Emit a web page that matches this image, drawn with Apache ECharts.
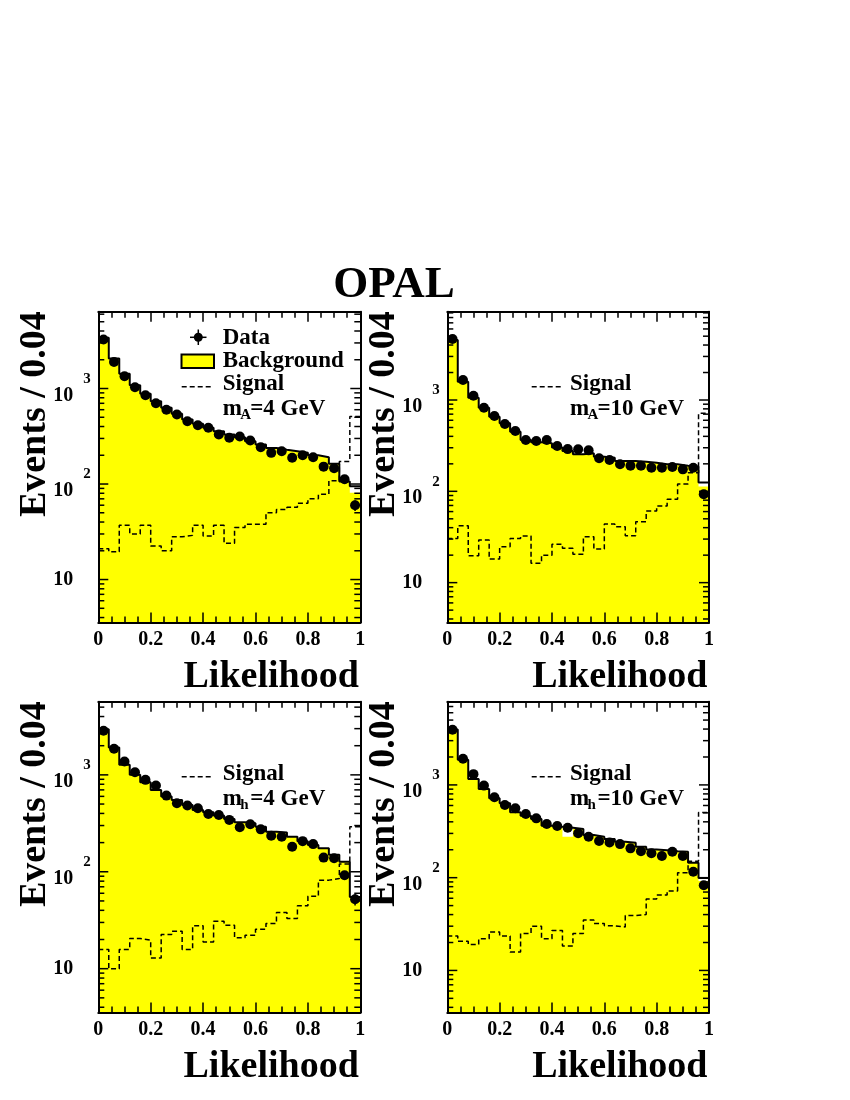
<!DOCTYPE html>
<html>
<head>
<meta charset="utf-8">
<script src="https://cdn.jsdelivr.net/npm/echarts@6/dist/echarts.min.js"></script>
<style>
html,body{margin:0;padding:0;background:#fff;}
#chart{width:850px;height:1100px;}
</style>
</head>
<body>
<div id="chart"></div>
<script>
// ---------------- data (25 bins of width 0.04 on Likelihood 0..1) ----------------
const BIN_WIDTH = 0.04;
const N_BINS = 25;
const xTickLabels = ['0', '0.2', '0.4', '0.6', '0.8', '1'];

// Panel 1 : m_A = 4 GeV
const data_mA4 = [3260, 1900, 1345, 1030, 850, 702, 598, 534, 455, 413, 388, 330, 305, 314, 285, 243, 212, 220, 188, 200, 191, 152, 146, 112, 60];
const bkgLine_mA4 = [3400, 2060, 1425, 1083, 880, 736, 628, 543, 473, 427, 388, 357, 330, 309, 281, 259, 239, 228, 220, 212, 200, 191, 163, 106, 95];
const bkgFill_mA4 = [3400, 2060, 1425, 1083, 880, 736, 628, 543, 473, 427, 388, 357, 330, 309, 281, 259, 239, 228, 220, 212, 200, 191, 163, 106, 81];
const sig_mA4 = [21, 19.5, 37, 30, 37, 22.5, 20, 28, 29, 37, 28.5, 37, 24, 35, 38, 38, 50, 54, 57, 63, 70, 78, 108, 172, 510];

// Panel 2 : m_A = 10 GeV
const data_mA10 = [4650, 1656, 1114, 823, 668, 546, 457, 365, 356, 365, 313, 290, 288, 281, 230, 220, 198, 191, 191, 181, 181, 185, 174, 181, 93];
const bkgLine_mA10 = [4550, 1586, 1060, 823, 656, 556, 450, 365, 344, 336, 301, 276, 254, 261, 239, 233, 215, 215, 211, 206, 198, 198, 191, 186, 125];
const bkgFill_mA10 = [4550, 1586, 1060, 823, 656, 556, 450, 365, 344, 336, 301, 276, 254, 261, 239, 233, 215, 215, 211, 206, 198, 198, 191, 186, 113];
const sig_mA10 = [30.5, 42, 19.7, 29.3, 18.1, 24.7, 30.5, 32.4, 16.3, 20, 26.3, 23.8, 20.4, 31.9, 23.3, 44, 41, 32.6, 46.5, 61, 69, 82, 120, 160, 714];

// Panel 3 : m_h = 4 GeV
const data_mh4 = [2850, 1857, 1373, 1066, 888, 777, 611, 510, 482, 452, 395, 386, 343, 288, 309, 274, 235, 230, 181, 207, 193, 140, 138, 92, 52];
const bkgLine_mh4 = [2950, 1914, 1269, 1000, 840, 700, 597, 551, 490, 435, 411, 380, 351, 324, 316, 292, 259, 255, 230, 207, 189, 175, 150, 127, 55];
const bkgFill_mh4 = [2950, 1914, 1269, 1000, 840, 700, 597, 551, 490, 435, 411, 380, 351, 324, 316, 292, 259, 255, 230, 207, 189, 175, 150, 127, 55];
const sig_mh4 = [15.8, 10, 15.8, 20.5, 19.7, 12.9, 22.5, 24.4, 15.8, 27.7, 18.9, 30.9, 28.1, 20.8, 22.1, 25.5, 29.2, 38, 33, 44.5, 56, 82, 85, 120, 292];

// Panel 4 : m_h = 10 GeV
const data_mh10 = [3930, 1911, 1306, 983, 736, 608, 560, 486, 436, 379, 360, 346, 301, 276, 248, 240, 230, 207, 193, 183, 171, 190, 171, 116, 83];
const bkgLine_mh10 = [3950, 1862, 1161, 905, 718, 634, 507, 466, 429, 363, 354, 346, 334, 288, 276, 261, 244, 238, 215, 201, 198, 193, 190, 145, 99];
const bkgFill_mh10 = [3950, 1862, 1161, 905, 718, 634, 507, 466, 429, 363, 354, 276, 334, 288, 276, 261, 244, 238, 215, 201, 198, 193, 190, 145, 92];
const sig_mh10 = [23.5, 20.6, 19, 22, 26, 23.5, 15.8, 25, 30, 22, 27, 18.3, 25, 35, 32, 30.3, 29.4, 39, 40, 59, 65, 72, 113, 150, 505];

// y ranges (log axes)
const yRanges = [[3.55, 6370], [3.66, 9270], [3.53, 5690], [3.52, 7890]];

// ---------------- layout ----------------
const FONT = 'Liberation Serif';
const grids = [
  {left: 98.3, top: 311.7, width: 262, height: 310.8},
  {left: 447.3, top: 311.7, width: 261.7, height: 310.8},
  {left: 98.3, top: 701.7, width: 262, height: 310.8},
  {left: 447.3, top: 701.7, width: 261.7, height: 310.8}
];
const panels = [
  {data: data_mA4, line: bkgLine_mA4, fill: bkgFill_mA4, sig: sig_mA4},
  {data: data_mA10, line: bkgLine_mA10, fill: bkgFill_mA10, sig: sig_mA10},
  {data: data_mh4, line: bkgLine_mh4, fill: bkgFill_mh4, sig: sig_mh4},
  {data: data_mh10, line: bkgLine_mh10, fill: bkgFill_mh10, sig: sig_mh10}
];

const edges = [];
for (let i = 0; i < N_BINS; i++) edges.push(+(i * BIN_WIDTH).toFixed(4));
const centers = edges.map(e => +(e + BIN_WIDTH / 2).toFixed(4));
function stepData(vals) {
  const d = edges.map((x, i) => [x, vals[i]]);
  d.push([1, vals[vals.length - 1]]);
  return d;
}
function logTicks(min, max) {
  const out = [];
  for (let e = 0; e <= 5; e++) for (let m = 1; m <= 9; m++) {
    const v = m * Math.pow(10, e);
    if (v > min && v < max) out.push([0, v, m === 1 ? 1 : 0]);
  }
  return out;
}

const xAxes = [], yAxes = [], series = [];
grids.forEach((g, gi) => {
  const common = {
    gridIndex: gi, type: 'value', min: 0, max: 1, interval: 0.2, z: 10,
    axisLine: {show: true, onZero: false, lineStyle: {color: '#000', width: 2}},
    axisTick: {show: true, inside: true, length: 10, lineStyle: {color: '#000', width: 1.5}},
    minorTick: {show: true, splitNumber: 4, length: 6, lineStyle: {color: '#000', width: 1.5}},
    splitLine: {show: false}, minorSplitLine: {show: false}
  };
  xAxes.push(Object.assign({}, common, {
    position: 'bottom',
    axisLabel: {show: true, margin: 7, color: '#000', fontFamily: FONT, fontWeight: 'bold', fontSize: 20,
      formatter: v => xTickLabels[Math.round(v / 0.2)] || ''}
  }));
  xAxes.push(Object.assign({}, common, {position: 'top', axisLabel: {show: false}}));
  const [ymin, ymax] = yRanges[gi];
  const ycommon = {
    gridIndex: gi, type: 'log', logBase: 10, min: ymin, max: ymax, z: 10,
    axisLine: {show: true, onZero: false, lineStyle: {color: '#000', width: 2}},
    axisTick: {show: false}, splitLine: {show: false}, minorTick: {show: false}
  };
  yAxes.push(Object.assign({}, ycommon, {
    position: 'left',
    axisLabel: {
      show: true, align: 'left', margin: 45, color: '#000', fontFamily: FONT, fontWeight: 'bold', fontSize: 20,
      showMinLabel: false, showMaxLabel: false,
      formatter: v => {
        const l = Math.log10(v);
        if (Math.abs(l - Math.round(l)) > 1e-6) return '';
        const p = Math.round(l);
        if (p === 1) return '10';
        if (p < 1) return '';
        return '{b|10}{s|' + p + '}';
      },
      rich: {
        b: {fontFamily: FONT, fontWeight: 'bold', fontSize: 20, color: '#000', verticalAlign: 'bottom', lineHeight: 34},
        s: {fontFamily: FONT, fontWeight: 'bold', fontSize: 15, color: '#000', verticalAlign: 'top', lineHeight: 34, padding: [0, 0, 0, 10]}
      }
    }
  }));
  yAxes.push(Object.assign({}, ycommon, {position: 'right', axisLabel: {show: false}}));

  const p = panels[gi];
  const xi = 2 * gi, yi = 2 * gi;
  series.push({
    type: 'line', xAxisIndex: xi, yAxisIndex: yi, step: 'end', symbol: 'none', z: 1,
    data: stepData(p.fill), lineStyle: {width: 0, opacity: 0},
    areaStyle: {color: '#ffff00', opacity: 1, origin: 'start'}, silent: true
  });
  series.push({
    type: 'line', xAxisIndex: xi, yAxisIndex: yi, step: 'end', symbol: 'none', z: 3,
    data: stepData(p.line), lineStyle: {color: '#000', width: 2}
  });
  series.push({
    type: 'line', xAxisIndex: xi, yAxisIndex: yi, step: 'end', symbol: 'none', z: 4,
    data: stepData(p.sig), lineStyle: {color: '#000', width: 1.5, type: [5, 3]}
  });
  series.push({
    type: 'custom', xAxisIndex: xi, yAxisIndex: yi, z: 5,
    data: centers.map((c, i) => [c, p.data[i], Math.sqrt(p.data[i])]),
    renderItem: (params, api) => {
      const c = api.value(0), v = api.value(1), e = api.value(2);
      const a = api.coord([c, v - e]), b = api.coord([c, v + e]);
      return {type: 'line', shape: {x1: a[0], y1: a[1], x2: b[0], y2: b[1]}, style: {stroke: '#000', lineWidth: 1.5}};
    }
  });
  series.push({
    type: 'scatter', xAxisIndex: xi, yAxisIndex: yi, z: 6, symbol: 'circle', symbolSize: 10,
    itemStyle: {color: '#000', opacity: 1}, data: centers.map((c, i) => [c, p.data[i]])
  });
  series.push({
    type: 'custom', xAxisIndex: xi, yAxisIndex: yi, z: 7, silent: true,
    data: logTicks(ymin, ymax),
    renderItem: (params, api) => {
      const v = api.value(1), major = api.value(2);
      const L = api.coord([0, v]), R = api.coord([1, v]);
      const len = major ? 10 : 6;
      return {type: 'group', children: [
        {type: 'line', shape: {x1: L[0], y1: L[1], x2: L[0] + len, y2: L[1]}, style: {stroke: '#000', lineWidth: 1.5}},
        {type: 'line', shape: {x1: R[0] - len, y1: R[1], x2: R[0], y2: R[1]}, style: {stroke: '#000', lineWidth: 1.5}}
      ]};
    }
  });
});

// ---------------- texts & legend (graphic) ----------------
const graphics = [];
function txt(x, y, s, size, align, extra) {
  graphics.push(Object.assign({
    type: 'text', x: x, y: y, z: 20,
    style: {text: s, fill: '#000', font: 'bold ' + size + 'px "' + FONT + '"', textAlign: align || 'left', textVerticalAlign: 'middle'}
  }, extra || {}));
}
txt(394, 285, 'OPAL', 45, 'center');
grids.forEach((g, gi) => {
  txt(g.left + g.width - 1.5, g.top + g.height + 54.5, 'Likelihood', 38, 'right');
  txt(g.left - 63.5, g.top + 102.5, 'Events / 0.04', 38, 'center', {rotation: Math.PI / 2});
});
function mass(x, yBase, sub, rest) {
  txt(x, yBase, 'm', 23, 'left');
  txt(x + 17.5, yBase + 7, sub, 15, 'left');
  txt(x + 27.5, yBase, rest, 23, 'left');
}
function dashed(x1, x2, y) {
  graphics.push({type: 'line', z: 20, shape: {x1: x1, y1: y, x2: x2, y2: y}, style: {stroke: '#000', lineWidth: 1.5, lineDash: [5, 3]}});
}
// panel 1 legend
graphics.push({type: 'line', z: 20, shape: {x1: 190, y1: 337.3, x2: 206.5, y2: 337.3}, style: {stroke: '#000', lineWidth: 1.5}});
graphics.push({type: 'line', z: 20, shape: {x1: 198.3, y1: 329.5, x2: 198.3, y2: 345}, style: {stroke: '#000', lineWidth: 1.5}});
graphics.push({type: 'circle', z: 21, shape: {cx: 198.3, cy: 337.3, r: 4.5}, style: {fill: '#000'}});
txt(222.7, 337.6, 'Data', 23);
graphics.push({type: 'rect', z: 20, shape: {x: 181.5, y: 354.5, width: 32.5, height: 13.5}, style: {fill: '#ffff00', stroke: '#000', lineWidth: 2}});
txt(222.7, 360.9, 'Background', 23);
dashed(181.7, 213.3, 386.7);
txt(222.7, 383.6, 'Signal', 23);
mass(222.7, 408.6, 'A', '=4 GeV');
// panel 2 legend
dashed(531.7, 561, 386.7);
txt(570, 383.6, 'Signal', 23);
mass(570, 408.6, 'A', '=10 GeV');
// panel 3 legend
dashed(181.7, 213.3, 776.7);
txt(222.7, 773.6, 'Signal', 23);
mass(222.7, 798.6, 'h', '=4 GeV');
// panel 4 legend
dashed(531.7, 561, 776.7);
txt(570, 773.6, 'Signal', 23);
mass(570, 798.6, 'h', '=10 GeV');

const chart = echarts.init(document.getElementById('chart'), null, {renderer: 'canvas'});
chart.setOption({
  animation: false,
  backgroundColor: '#fff',
  textStyle: {fontFamily: FONT},
  grid: grids.map(g => Object.assign({show: false, containLabel: false}, g)),
  xAxis: xAxes,
  yAxis: yAxes,
  series: series,
  graphic: graphics
});
</script>
</body>
</html>
